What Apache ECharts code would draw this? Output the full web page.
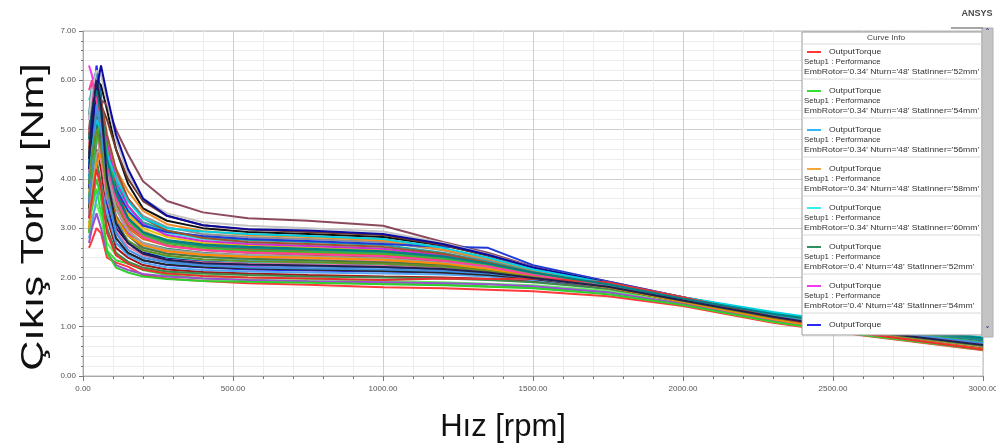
<!DOCTYPE html>
<html>
<head>
<meta charset="utf-8">
<script src="https://cdn.jsdelivr.net/npm/echarts@6/dist/echarts.min.js"></script>
<style>
  html, body { margin: 0; padding: 0; background: #ffffff; }
  #chart { width: 996px; height: 448px; }
</style>
</head>
<body>
<div id="chart"></div>
<script>
// Speed samples (rpm) shared by every torque curve
const speedRpm = [20, 30, 45, 60, 80, 110, 150, 200, 280, 400, 550, 750, 1000, 1200, 1350, 1500, 1750, 2000, 2300, 2600, 3000];

// Output torque (Nm) of each design variant at the speeds above
const torque01 = [2.60, 2.75, 3.00, 2.90, 2.40, 2.30, 2.22, 2.05, 1.98, 1.93, 1.88, 1.85, 1.80, 1.78, 1.75, 1.72, 1.62, 1.42, 1.08, 0.82, 0.52];
const torque02 = [3.10, 3.40, 3.80, 3.30, 2.55, 2.35, 2.28, 2.15, 2.05, 1.98, 1.95, 1.92, 1.88, 1.85, 1.82, 1.80, 1.70, 1.50, 1.15, 0.88, 0.58];
const torque03 = [3.60, 4.40, 5.10, 4.80, 3.90, 3.20, 2.85, 2.62, 2.50, 2.42, 2.36, 2.32, 2.28, 2.22, 2.12, 1.98, 1.80, 1.52, 1.22, 0.98, 0.72];
const torque04 = [4.20, 4.80, 5.40, 5.00, 4.30, 3.70, 3.25, 2.95, 2.75, 2.62, 2.56, 2.50, 2.45, 2.35, 2.20, 2.02, 1.75, 1.45, 1.10, 0.84, 0.55];
const torque05 = [4.50, 5.20, 5.80, 5.50, 4.60, 3.90, 3.40, 3.10, 2.90, 2.78, 2.70, 2.65, 2.58, 2.45, 2.28, 2.10, 1.85, 1.55, 1.25, 1.00, 0.75];
const torque06 = [3.90, 4.30, 4.90, 4.60, 3.80, 3.20, 2.90, 2.70, 2.58, 2.50, 2.45, 2.42, 2.38, 2.30, 2.18, 2.05, 1.85, 1.58, 1.26, 1.00, 0.74];
const torque07 = [6.30, 6.10, 5.60, 5.20, 4.40, 3.40, 2.90, 2.55, 2.35, 2.26, 2.22, 2.18, 2.14, 2.10, 2.05, 1.95, 1.78, 1.50, 1.18, 0.92, 0.65];
const torque08 = [4.00, 5.20, 6.30, 5.70, 3.50, 2.70, 2.50, 2.35, 2.25, 2.20, 2.16, 2.14, 2.12, 2.10, 2.06, 1.98, 1.82, 1.55, 1.22, 0.95, 0.66];
const torque09 = [4.80, 5.50, 6.00, 5.90, 5.40, 4.60, 3.90, 3.40, 3.15, 3.00, 2.92, 2.88, 2.82, 2.65, 2.45, 2.20, 1.90, 1.58, 1.22, 0.90, 0.60];
const torque10 = [5.00, 5.60, 6.00, 5.60, 5.50, 5.00, 4.50, 3.95, 3.55, 3.32, 3.20, 3.15, 3.05, 2.72, 2.50, 2.22, 1.92, 1.60, 1.20, 0.90, 0.60];
const torque11 = [4.40, 5.00, 5.50, 5.30, 4.80, 4.10, 3.60, 3.25, 3.02, 2.88, 2.82, 2.78, 2.72, 2.55, 2.35, 2.12, 1.85, 1.56, 1.24, 0.98, 0.72];
const torque12 = [3.50, 4.60, 5.60, 5.20, 4.20, 3.60, 3.15, 2.90, 2.75, 2.66, 2.62, 2.58, 2.52, 2.40, 2.25, 2.05, 1.80, 1.50, 1.18, 0.90, 0.62];
const torque13 = [3.30, 3.90, 4.60, 4.20, 3.20, 2.60, 2.40, 2.25, 2.16, 2.11, 2.08, 2.05, 2.02, 2.00, 1.97, 1.92, 1.78, 1.50, 1.15, 0.86, 0.56];
const torque14 = [4.10, 4.70, 5.20, 4.90, 4.10, 3.50, 3.05, 2.82, 2.66, 2.56, 2.50, 2.46, 2.42, 2.33, 2.20, 2.03, 1.80, 1.52, 1.20, 0.94, 0.66];
const torque15 = [3.80, 4.90, 5.90, 5.50, 3.90, 3.00, 2.70, 2.50, 2.40, 2.33, 2.30, 2.28, 2.25, 2.20, 2.12, 2.00, 1.84, 1.56, 1.24, 0.96, 0.68];
const torque16 = [4.30, 4.90, 5.40, 5.20, 4.50, 3.90, 3.45, 3.12, 2.95, 2.82, 2.76, 2.72, 2.66, 2.50, 2.32, 2.12, 1.86, 1.57, 1.27, 1.02, 0.77];
const torque17 = [4.70, 5.40, 5.70, 5.10, 4.20, 3.40, 2.95, 2.68, 2.52, 2.45, 2.40, 2.37, 2.33, 2.26, 2.15, 2.00, 1.78, 1.50, 1.17, 0.90, 0.62];
const torque18 = [3.70, 4.20, 4.70, 4.90, 4.40, 3.80, 3.30, 3.00, 2.82, 2.70, 2.65, 2.60, 2.55, 2.42, 2.26, 2.06, 1.80, 1.48, 1.12, 0.84, 0.54];
const torque19 = [2.90, 3.60, 4.40, 4.60, 4.00, 3.40, 3.00, 2.78, 2.64, 2.56, 2.52, 2.50, 2.46, 2.36, 2.22, 2.04, 1.78, 1.47, 1.12, 0.85, 0.55];
const torque20 = [3.20, 3.90, 4.80, 5.30, 4.20, 3.20, 2.70, 2.45, 2.33, 2.28, 2.25, 2.22, 2.20, 2.16, 2.10, 2.00, 1.83, 1.55, 1.23, 0.97, 0.70];
const torque21 = [3.00, 3.20, 3.50, 3.20, 2.70, 2.45, 2.30, 2.18, 2.10, 2.04, 2.00, 1.97, 1.93, 1.90, 1.87, 1.84, 1.73, 1.50, 1.18, 0.90, 0.60];
const torque22 = [4.90, 5.30, 5.60, 5.40, 4.70, 3.80, 3.20, 2.90, 2.72, 2.63, 2.58, 2.54, 2.50, 2.40, 2.25, 2.08, 1.88, 1.60, 1.26, 0.96, 0.66];
const torque23 = [2.80, 3.10, 3.60, 3.90, 3.30, 2.70, 2.45, 2.30, 2.20, 2.15, 2.12, 2.10, 2.08, 2.06, 2.02, 1.95, 1.80, 1.52, 1.20, 0.93, 0.64];
const torque24 = [4.60, 5.10, 5.30, 5.00, 4.60, 4.20, 3.75, 3.35, 3.08, 2.94, 2.86, 2.82, 2.75, 2.56, 2.38, 2.15, 1.86, 1.52, 1.15, 0.86, 0.56];
const torque25 = [5.60, 5.80, 5.50, 4.90, 4.00, 3.10, 2.75, 2.55, 2.42, 2.36, 2.32, 2.30, 2.27, 2.22, 2.14, 2.02, 1.85, 1.58, 1.27, 1.01, 0.76];
const torque26 = [3.60, 4.10, 4.40, 3.90, 3.00, 2.50, 2.32, 2.20, 2.12, 2.08, 2.05, 2.02, 2.00, 1.98, 1.95, 1.90, 1.77, 1.52, 1.19, 0.92, 0.63];
const torque27 = [5.20, 5.70, 5.90, 5.40, 4.70, 4.00, 3.45, 3.08, 2.86, 2.74, 2.68, 2.64, 2.58, 2.45, 2.28, 2.08, 1.82, 1.52, 1.18, 0.90, 0.60];
const torque28 = [4.00, 4.50, 5.00, 4.80, 4.30, 3.80, 3.35, 3.05, 2.92, 2.84, 2.78, 2.74, 2.68, 2.62, 2.60, 2.25, 1.92, 1.60, 1.26, 0.98, 0.70];
const torque29 = [3.40, 4.20, 5.20, 4.90, 3.60, 2.80, 2.50, 2.35, 2.26, 2.21, 2.18, 2.16, 2.13, 2.10, 2.05, 1.97, 1.80, 1.50, 1.15, 0.86, 0.57];
const torque30 = [4.50, 5.00, 5.40, 5.50, 5.20, 4.60, 4.00, 3.55, 3.25, 3.06, 2.97, 2.92, 2.86, 2.66, 2.44, 2.20, 1.90, 1.56, 1.18, 0.88, 0.58];
const torque31 = [3.30, 3.80, 4.50, 4.70, 4.10, 3.40, 2.95, 2.70, 2.56, 2.49, 2.45, 2.42, 2.38, 2.30, 2.20, 2.04, 1.83, 1.56, 1.25, 1.00, 0.75];
const torque32 = [2.70, 3.00, 3.30, 3.00, 2.50, 2.25, 2.15, 2.07, 2.02, 1.98, 1.95, 1.92, 1.90, 1.88, 1.86, 1.82, 1.70, 1.46, 1.12, 0.84, 0.54];
const torque33 = [2.90, 3.50, 4.00, 3.60, 2.50, 2.20, 2.10, 2.02, 1.97, 1.93, 1.91, 1.89, 1.86, 1.84, 1.81, 1.78, 1.66, 1.44, 1.10, 0.83, 0.53];
const torque34 = [5.30, 5.90, 6.20, 5.60, 4.50, 3.70, 3.20, 2.90, 2.73, 2.64, 2.60, 2.56, 2.50, 2.40, 2.25, 2.07, 1.84, 1.55, 1.24, 0.99, 0.74];
const torque35 = [4.10, 4.60, 5.00, 4.40, 3.60, 2.95, 2.62, 2.45, 2.36, 2.31, 2.28, 2.26, 2.23, 2.18, 2.10, 1.99, 1.80, 1.52, 1.20, 0.92, 0.63];
const torque36 = [4.40, 5.00, 5.30, 4.70, 3.90, 3.25, 2.85, 2.60, 2.48, 2.42, 2.38, 2.35, 2.31, 2.25, 2.15, 2.02, 1.82, 1.54, 1.22, 0.95, 0.67];
const torque37 = [4.60, 5.30, 5.70, 5.60, 4.90, 4.20, 3.60, 3.20, 2.95, 2.80, 2.72, 2.68, 2.62, 2.48, 2.30, 2.10, 1.84, 1.54, 1.20, 0.92, 0.63];
const torque38 = [5.20, 5.80, 6.20, 6.10, 5.60, 4.80, 4.10, 3.60, 3.30, 3.12, 3.05, 3.00, 2.93, 2.70, 2.47, 2.20, 1.90, 1.57, 1.20, 0.90, 0.60];
const torque39 = [4.20, 5.00, 5.80, 6.30, 5.70, 4.90, 4.20, 3.60, 3.25, 3.06, 2.98, 2.95, 2.88, 2.68, 2.46, 2.20, 1.90, 1.58, 1.22, 0.92, 0.62];
const torque40 = [3.60, 4.10, 4.80, 5.20, 4.60, 3.70, 3.15, 2.86, 2.70, 2.60, 2.55, 2.52, 2.48, 2.38, 2.24, 2.06, 1.84, 1.56, 1.24, 0.97, 0.69];
const torque41 = [3.00, 3.60, 4.30, 4.50, 3.90, 3.20, 2.85, 2.65, 2.53, 2.46, 2.42, 2.40, 2.36, 2.28, 2.17, 2.02, 1.80, 1.50, 1.15, 0.86, 0.55];
const torque42 = [4.00, 4.60, 5.20, 5.00, 4.50, 4.00, 3.55, 3.20, 3.00, 2.93, 2.88, 2.84, 2.78, 2.60, 2.40, 2.16, 1.88, 1.60, 1.30, 1.04, 0.78];
const torque43 = [5.80, 6.00, 5.60, 5.00, 4.30, 3.60, 3.10, 2.82, 2.64, 2.55, 2.50, 2.47, 2.43, 2.34, 2.22, 2.05, 1.82, 1.53, 1.20, 0.93, 0.64];
const torque44 = [3.50, 4.30, 5.50, 5.00, 3.70, 2.90, 2.56, 2.40, 2.30, 2.24, 2.20, 2.18, 2.16, 2.13, 2.08, 1.99, 1.82, 1.54, 1.22, 0.95, 0.67];
const torque45 = [3.90, 4.50, 5.00, 4.60, 3.80, 3.10, 2.75, 2.55, 2.44, 2.37, 2.33, 2.31, 2.28, 2.22, 2.13, 2.01, 1.81, 1.52, 1.18, 0.90, 0.61];
const torque46 = [3.20, 3.60, 4.20, 3.80, 2.90, 2.45, 2.28, 2.16, 2.08, 2.03, 2.00, 1.98, 1.95, 1.98, 1.97, 1.98, 1.90, 1.60, 1.20, 0.86, 0.54];
const torque47 = [4.80, 5.40, 5.80, 5.30, 4.40, 3.70, 3.20, 2.92, 2.76, 2.67, 2.62, 2.58, 2.53, 2.43, 2.28, 2.10, 1.86, 1.57, 1.26, 1.02, 0.77];
const torque48 = [4.40, 5.30, 6.00, 5.50, 4.00, 3.10, 2.70, 2.48, 2.36, 2.29, 2.26, 2.24, 2.21, 2.17, 2.10, 1.99, 1.81, 1.53, 1.20, 0.92, 0.63];

const torqueCurves = [
  torque01, torque02, torque03, torque04, torque05, torque06, torque07, torque08,
  torque09, torque10, torque11, torque12, torque13, torque14, torque15, torque16,
  torque17, torque18, torque19, torque20, torque21, torque22, torque23, torque24,
  torque25, torque26, torque27, torque28, torque29, torque30, torque31, torque32,
  torque33, torque34, torque35, torque36, torque37, torque38, torque39, torque40,
  torque41, torque42, torque43, torque44, torque45, torque46, torque47, torque48
];

// Sweep parameters listed in the curve info panel
const rotorEmb = ["0.34", "0.34", "0.34", "0.34", "0.34", "0.4", "0.4", "0.4"];
const statorInner = ["52mm", "54mm", "56mm", "58mm", "60mm", "52mm", "54mm", "56mm"];

// Axis ticks
const speedTicks = [0, 500, 1000, 1500, 2000, 2500, 3000];
const torqueTicks = [0, 1, 2, 3, 4, 5, 6, 7];

// Line colours, one per curve
const palette = [
  "#ff3a3a", "#33dd33", "#33b5ff", "#f2a83a", "#33f0f0", "#2f9163", "#f23af2", "#2a2af0",
  "#111111", "#8c4a5c", "#8f8f8f", "#7f33c2", "#a41414", "#7d7d1e", "#141484", "#1fa3a3",
  "#ff85c4", "#e3c200", "#e2661a", "#3f7fc4", "#5ef05e", "#e02424", "#52a8f0", "#f08c2a",
  "#2ee6e6", "#3a8a4e", "#d42ad4", "#1e3ad8", "#262626", "#6e3a2a", "#a0a0a0", "#9a4fd0",
  "#2fcf2f", "#188c8c", "#e87aa8", "#4a7a3a", "#a0522d", "#c4c4c4", "#0a0aa0", "#3cb43c",
  "#ff8c00", "#00d0e0", "#ff40a0", "#4090e0", "#6b8e23", "#e83030", "#008080", "#202050"
];

const series = torqueCurves.map(function (vals, i) {
  const k = i % rotorEmb.length;
  return {
    name: "OutputTorque " + (i + 1) + " EmbRotor='" + rotorEmb[k] + "' StatInner='" + statorInner[k] + "'",
    type: "line",
    showSymbol: false,
    symbol: "none",
    smooth: false,
    animation: false,
    lineStyle: { width: 2, color: palette[i % palette.length] },
    itemStyle: { color: palette[i % palette.length] },
    data: speedRpm.map(function (x, j) { return [x, vals[j]]; })
  };
});

const uiFont = "'Liberation Sans', Arial, sans-serif";

// Curve info panel drawn over the plot, top right
const panelLeft = 802, panelTop = 32, panelRight = 982, panelBottom = 335;
const rowStep = 39;
const panel = [];
panel.push({
  type: "rect", z: 100,
  shape: { x: panelLeft, y: panelTop, width: panelRight - panelLeft, height: panelBottom - panelTop },
  style: { fill: "#ffffff", stroke: "#9a9a9a", lineWidth: 1 }
});
panel.push({
  type: "text", z: 101, x: 886, y: 38, scaleX: 1.1,
  style: { text: "Curve Info", align: "center", verticalAlign: "middle", font: "7.5px " + uiFont, fill: "#444444" }
});
panel.push({
  type: "line", z: 101,
  shape: { x1: panelLeft, y1: 44, x2: panelRight, y2: 44 },
  style: { stroke: "#d8d8d8", lineWidth: 1 }
});
for (let i = 0; i < rotorEmb.length; i++) {
  const y0 = 52 + i * rowStep;
  panel.push({
    type: "line", z: 101,
    shape: { x1: 807, y1: y0, x2: 821, y2: y0 },
    style: { stroke: palette[i], lineWidth: 2 }
  });
  panel.push({
    type: "text", z: 101, x: 829, y: y0, scaleX: 1.15,
    style: { text: "OutputTorque", verticalAlign: "middle", font: "7.5px " + uiFont, fill: "#333333" }
  });
  if (i < rotorEmb.length - 1) {
    panel.push({
      type: "text", z: 101, x: 804, y: y0 + 10, scaleX: 1.05,
      style: { text: "Setup1 : Performance", verticalAlign: "middle", font: "7.5px " + uiFont, fill: "#333333" }
    });
    panel.push({
      type: "text", z: 101, x: 804, y: y0 + 20, scaleX: 1.15,
      style: { text: "EmbRotor='" + rotorEmb[i] + "' Nturn='48' StatInner='" + statorInner[i] + "'",
               verticalAlign: "middle", font: "7.5px " + uiFont, fill: "#333333" }
    });
    panel.push({
      type: "line", z: 101,
      shape: { x1: panelLeft, y1: y0 + 27, x2: panelRight, y2: y0 + 27 },
      style: { stroke: "#d8d8d8", lineWidth: 1 }
    });
  }
}
// scroll bar
panel.push({
  type: "rect", z: 100,
  shape: { x: 982, y: 28, width: 11, height: 309 },
  style: { fill: "#c4c4c4", stroke: "#b0b0b0", lineWidth: 1 }
});
panel.push({
  type: "text", z: 101,
  style: { x: 987.5, y: 33, text: "\u02c4", align: "center", verticalAlign: "middle",
           font: "bold 9px 'DejaVu Sans', sans-serif", fill: "#3a3a9a" }
});
panel.push({
  type: "text", z: 101,
  style: { x: 987.5, y: 331, text: "\u02c5", align: "center", verticalAlign: "middle",
           font: "bold 9px 'DejaVu Sans', sans-serif", fill: "#3a3a9a" }
});
panel.push({
  type: "line", z: 101,
  shape: { x1: 951, y1: 28, x2: 983, y2: 28 },
  style: { stroke: "#8a8a8a", lineWidth: 1.5 }
});
panel.push({
  type: "text", z: 101,
  style: { x: 977, y: 14, text: "ANSYS", align: "center", verticalAlign: "middle",
           font: "bold 9px " + uiFont, fill: "#4a4a4a" }
});
// vertical axis title, stretched along its reading direction
panel.push({
  type: "text", z: 50, x: 34, y: 217, rotation: Math.PI / 2, scaleX: 1.3,
  style: { text: "Çıkış Torku [Nm]", align: "center", verticalAlign: "middle",
           font: "32px " + uiFont, fill: "#111111" }
});

const chart = echarts.init(document.getElementById("chart"), null, { renderer: "canvas" });
chart.setOption({
  animation: false,
  backgroundColor: "#ffffff",
  grid: {
    left: 83, right: 13, top: 31, bottom: 72,
    outerBoundsMode: "none",
    containLabel: false,
    show: true, borderColor: "#b4b4b4", borderWidth: 1
  },
  xAxis: {
    type: "value",
    min: speedTicks[0],
    max: speedTicks[speedTicks.length - 1],
    interval: speedTicks[1] - speedTicks[0],
    name: "Hız [rpm]",
    nameLocation: "middle",
    nameGap: 36,
    nameTextStyle: { fontFamily: uiFont, fontSize: 31, color: "#111111", padding: [0, 60, 0, 0] },
    axisLine: { show: true, lineStyle: { color: "#a8a8a8", width: 1 } },
    axisTick: { show: true, length: 5, lineStyle: { color: "#777777" } },
    minorTick: { show: true, splitNumber: 5, length: 3, lineStyle: { color: "#777777" } },
    axisLabel: {
      margin: 9, fontSize: 8, color: "#555555", fontFamily: uiFont,
      formatter: function (v) { return v.toFixed(2); }
    },
    splitLine: { show: true, lineStyle: { color: "#cfcfcf", width: 1 } },
    minorSplitLine: { show: true, lineStyle: { color: "#ededed", width: 1 } }
  },
  yAxis: {
    type: "value",
    min: torqueTicks[0],
    max: torqueTicks[torqueTicks.length - 1],
    interval: torqueTicks[1] - torqueTicks[0],
    axisLine: { show: true, lineStyle: { color: "#a8a8a8", width: 1 } },
    axisTick: { show: true, length: 4, lineStyle: { color: "#777777" } },
    minorTick: { show: true, splitNumber: 5, length: 2, lineStyle: { color: "#777777" } },
    axisLabel: {
      margin: 7, fontSize: 8, color: "#555555", fontFamily: uiFont,
      formatter: function (v) { return v.toFixed(2); }
    },
    splitLine: { show: true, lineStyle: { color: "#cfcfcf", width: 1 } },
    minorSplitLine: { show: true, lineStyle: { color: "#ededed", width: 1 } }
  },
  graphic: { elements: panel },
  series: series
});
</script>
</body>
</html>
